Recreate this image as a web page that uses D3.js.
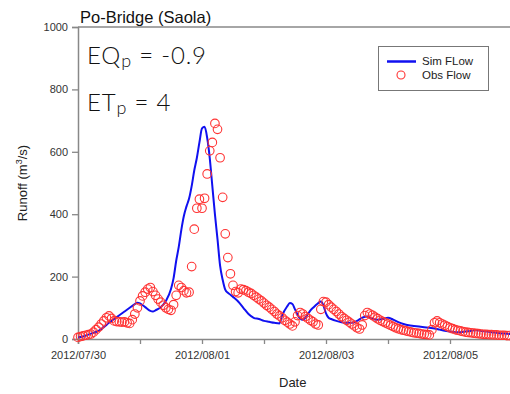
<!DOCTYPE html>
<html>
<head>
<meta charset="utf-8">
<script src="https://cdn.jsdelivr.net/npm/d3@7"></script>
<style>
  body { margin: 0; background: #fff; }
  svg { display: block; }
</style>
</head>
<body>
<svg id="chart" width="510" height="394"></svg>
<script>
// observed flow, one value per hour from 2012/07/30 00:00
var obsFlow = [
  5, 8, 10, 12, 14, 16, 22, 30, 38, 48, 58, 68, 74, 66, 58, 56, 55, 54, 55, 52,
  50, 62, 80, 100, 122, 138, 150, 160, 165, 152, 140, 128, 118, 108, 100, 95, 92, 110, 140, 172,
  165, 155, 148, 150, 232, 352, 419, 448, 419, 451, 529, 603, 630, 691, 672, 581, 454, 337, 261, 209,
  172, 152, 148, 160, 158, 155, 150, 146, 140, 134, 128, 122, 115, 108, 102, 95, 88, 80, 74, 68,
  60, 54, 48, 42, 55, 75, 85, 80, 72, 66, 60, 55, 48, 45, 95, 120, 118, 110, 102, 95,
  88, 80, 72, 66, 60, 54, 48, 42, 36, 32, 45, 75, 85, 80, 76, 70, 65, 60, 56, 52,
  48, 44, 40, 36, 33, 30, 28, 26, 24, 22, 20, 19, 18, 16, 15, 14, 13, 30, 52, 58,
  52, 48, 44, 40, 36, 33, 30, 28, 26, 24, 22, 21, 20, 19, 18, 17, 16, 15, 15, 14,
  14, 13, 13, 12, 12, 12, 11, 11
];

// simulated flow: hour offset and value
var simHour = [0, 2, 4, 6, 8, 10, 12, 14, 16, 18, 20, 22, 23, 24, 26, 28, 29, 30, 32, 34,
  36, 37, 38, 39, 40, 41, 42, 43, 44, 45, 46, 47, 48, 49, 50, 51, 52, 53, 54, 55,
  56, 57, 58, 59, 60, 62, 64, 66, 68, 70, 72, 74, 76, 78, 79, 81, 82, 83, 84, 85,
  86, 87, 88, 89, 90, 91, 92, 93, 94, 95, 96, 97, 98, 100, 102, 104, 106, 108, 110, 112,
  114, 116, 118, 120, 122, 124, 126, 128, 130, 132, 134, 136, 138, 140, 142, 144, 146, 148, 150, 152,
  154, 156, 158, 160, 162, 164, 166, 168];
var simFlow = [6, 8, 14, 20, 26, 38, 52, 64, 76, 88, 100, 112, 116, 114, 102, 90, 88, 92, 102, 122,
  160, 195, 250, 295, 350, 395, 425, 450, 490, 540, 580, 630, 675, 680, 645, 580, 490, 400, 320, 235,
  190, 158, 148, 142, 135, 120, 100, 80, 68, 64, 58, 55, 52, 50, 75, 105, 115, 112, 95, 78,
  66, 62, 68, 80, 92, 100, 108, 115, 120, 108, 82, 68, 64, 58, 54, 52, 52, 58, 68, 72,
  64, 62, 64, 68, 62, 54, 48, 44, 42, 40, 38, 36, 34, 30, 26, 24, 22, 22, 24, 26,
  28, 26, 24, 22, 20, 18, 17, 16];

var dayTicks = ["2012/07/30", "2012/07/31", "2012/08/01", "2012/08/02", "2012/08/03",
  "2012/08/04", "2012/08/05"];
var dayLabels = ["2012/07/30", "2012/08/01", "2012/08/03", "2012/08/05"];
var yTicks = [0, 200, 400, 600, 800, 1000];

var parseDay = d3.timeParse("%Y/%m/%d");
var fmtDay = d3.timeFormat("%Y/%m/%d");
var start = parseDay("2012/07/30");
var atHour = function(h) { return d3.timeHour.offset(start, h); };

var svg = d3.select("#chart");
var plotL = 78, plotR = 512, plotT = 27, plotB = 339;

var x = d3.scaleTime()
    .domain([start, parseDay("2012/08/06")])
    .range([plotL, plotR]);
var y = d3.scaleLinear()
    .domain([0, 1000])
    .range([plotB, plotT]);

var axisColor = "#888";
var labelFont = "'Liberation Sans', Arial, sans-serif";

// frame top line
svg.append("line")
    .attr("x1", plotL).attr("x2", 510)
    .attr("y1", plotT).attr("y2", plotT)
    .attr("stroke", axisColor).attr("stroke-width", 1.5);

var xAxis = svg.append("g")
    .attr("transform", "translate(0," + plotB + ")")
    .call(d3.axisBottom(x)
        .tickValues(dayTicks.map(parseDay))
        .tickSize(5)
        .tickFormat(function(d) {
            var s = fmtDay(d);
            return dayLabels.indexOf(s) >= 0 ? s : "";
        }));

var yAxis = svg.append("g")
    .attr("transform", "translate(" + plotL + ",0)")
    .call(d3.axisLeft(y).tickValues(yTicks).tickSize(6).tickPadding(4).tickFormat(d3.format("d")));

[xAxis, yAxis].forEach(function(g) {
    g.select(".domain").attr("stroke", axisColor).attr("stroke-width", 1.5);
    g.selectAll(".tick line").attr("stroke", axisColor).attr("stroke-width", 1.3);
    g.selectAll("text")
        .attr("fill", "#333")
        .style("font-family", labelFont)
        .style("font-size", "11px");
});
xAxis.selectAll("text").attr("dy", "1.1em");

// simulated line
var line = d3.line()
    .x(function(d, i) { return x(atHour(simHour[i])); })
    .y(function(d) { return y(d); })
    .curve(d3.curveMonotoneX);

svg.append("path")
    .datum(simFlow)
    .attr("d", line)
    .attr("fill", "none")
    .attr("stroke", "#1010f0")
    .attr("stroke-width", 2);

// observed circles
svg.append("g").selectAll("circle")
    .data(obsFlow)
    .enter()
    .append("circle")
    .attr("cx", function(d, i) { return x(atHour(i)); })
    .attr("cy", function(d) { return y(d); })
    .attr("r", 4.3)
    .attr("fill", "none")
    .attr("stroke", "#ff3333")
    .attr("stroke-width", 1.1);

// title
svg.append("text")
    .attr("x", 80).attr("y", 23)
    .style("font-family", labelFont)
    .style("font-size", "16.5px")
    .attr("fill", "#111")
    .text("Po-Bridge (Saola)");

// stats text
var stats = [["EQ", "p", " = -0.9", 64], ["ET", "p", " = 4", 111]];
stats.forEach(function(s) {
    var t = svg.append("text")
        .attr("x", 87).attr("y", s[3])
        .style("font-family", "Lato, 'Open Sans', sans-serif")
        .style("font-weight", 300)
        .style("font-size", "24px")
        .style("letter-spacing", "0.8px")
        .attr("fill", "#111");
    t.append("tspan").text(s[0]);
    t.append("tspan").attr("dy", 3).style("font-size", "18px").text(s[1]);
    t.append("tspan").attr("dy", -3).text(s[2]);
});

// axis titles
svg.append("text")
    .attr("x", 279).attr("y", 387)
    .style("font-family", labelFont)
    .style("font-size", "13px")
    .attr("fill", "#222")
    .text("Date");

var yt = svg.append("text")
    .attr("transform", "translate(27,183) rotate(-90)")
    .attr("text-anchor", "middle")
    .style("font-family", labelFont)
    .style("font-size", "13px")
    .attr("fill", "#222");
yt.append("tspan").text("Runoff (m");
yt.append("tspan").attr("dy", -5).style("font-size", "9px").text("3");
yt.append("tspan").attr("dy", 5).text("/s)");

// legend
var lg = svg.append("g");
lg.append("rect")
    .attr("x", 378.5).attr("y", 46.5)
    .attr("width", 110).attr("height", 44)
    .attr("fill", "#fff")
    .attr("stroke", "#777").attr("stroke-width", 1);
lg.append("line")
    .attr("x1", 387).attr("x2", 416)
    .attr("y1", 61.5).attr("y2", 61.5)
    .attr("stroke", "#1010f0").attr("stroke-width", 2.5);
lg.append("circle")
    .attr("cx", 401).attr("cy", 75).attr("r", 4)
    .attr("fill", "none").attr("stroke", "#ff3333").attr("stroke-width", 1.1);
lg.append("text").attr("x", 422).attr("y", 65)
    .style("font-family", labelFont).style("font-size", "11.5px").attr("fill", "#222")
    .text("Sim FLow");
lg.append("text").attr("x", 422).attr("y", 79)
    .style("font-family", labelFont).style("font-size", "11.5px").attr("fill", "#222")
    .text("Obs Flow");
</script>
</body>
</html>
